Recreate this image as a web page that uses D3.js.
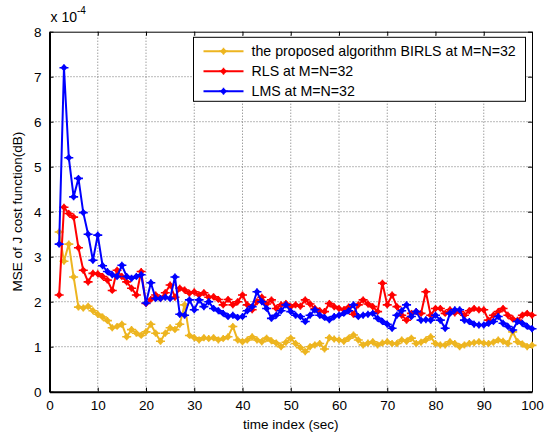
<!DOCTYPE html>
<html>
<head>
<meta charset="utf-8">
<script src="https://cdn.jsdelivr.net/npm/d3@7"></script>
<style>
  body { margin: 0; background: #fff; }
  text { font-family: "Liberation Sans", Arial, sans-serif; }
</style>
</head>
<body>
<div id="chart"></div>
<script>
// time index 2..100
const timeIndex = d3.range(2, 101);

// MSE values in units of 1e-4
const birls = [3.55, 2.9, 3.28, 2.55, 1.88, 1.86, 1.9, 1.8, 1.72, 1.66,
  1.58, 1.42, 1.45, 1.5, 1.22, 1.38, 1.3, 1.25, 1.33, 1.5,
  1.3, 1.12, 1.3, 1.42, 1.38, 1.5, 1.93, 1.25, 1.2, 1.15,
  1.2, 1.18, 1.2, 1.15, 1.18, 1.22, 1.45, 1.15, 1.11, 1.15,
  1.22, 1.15, 1.11, 1.19, 1.13, 1.08, 1.0, 1.1, 1.19, 1.07,
  0.98, 0.89, 1.0, 1.04, 1.07, 0.95, 1.2, 1.17, 1.15, 1.12,
  1.19, 1.26, 1.15, 1.04, 1.08, 1.11, 1.04, 1.08, 1.11, 1.07,
  1.07, 1.15, 1.12, 1.19, 1.07, 1.1, 1.15, 1.22, 1.07, 1.04,
  1.04, 1.11, 1.07, 1.0, 1.04, 1.07, 1.09, 1.11, 1.08, 1.07,
  1.1, 1.15, 1.12, 1.07, 1.33, 1.11, 1.06, 1.0, 1.03];

const rls = [2.15, 4.1, 3.96, 3.88, 3.2, 2.7, 2.44, 2.63, 2.62, 2.56,
  2.48, 2.25, 2.7, 2.56, 2.44, 2.3, 2.15, 2.67, 1.96, 2.05,
  2.15, 2.07, 2.2, 2.37, 2.1, 2.3, 2.26, 2.19, 2.22, 2.15,
  2.2, 2.1, 2.11, 2.05, 1.93, 2.05, 1.93, 2.0, 2.15, 1.93,
  1.82, 2.0, 2.1, 1.95, 2.04, 1.85, 1.93, 1.96, 1.89, 1.93,
  1.9, 2.04, 1.95, 1.85, 1.8, 1.78, 1.96, 1.89, 1.85, 1.82,
  1.88, 1.72, 1.93, 2.04, 1.95, 1.89, 1.78, 2.41, 1.93, 2.15,
  1.89, 1.7, 1.59, 1.74, 1.78, 1.74, 2.22, 1.7, 1.85, 1.85,
  1.74, 1.82, 1.75, 1.78, 1.7, 1.8, 1.85, 1.82, 1.82, 1.59,
  1.7, 1.78, 1.85, 1.7, 1.62, 1.59, 1.7, 1.74, 1.7];

const lms = [3.28, 7.2, 5.2, 4.33, 4.74, 3.98, 3.5, 2.92, 3.48, 2.8,
  2.67, 2.6, 2.56, 2.81, 2.56, 2.52, 2.56, 2.6, 1.97, 2.42,
  2.07, 2.07, 2.1, 2.07, 2.55, 1.72, 1.7, 2.04, 1.82, 2.04,
  1.89, 2.0, 1.85, 1.8, 1.74, 1.67, 1.7, 1.65, 1.67, 1.8,
  1.89, 2.22, 2.0, 1.85, 1.63, 1.7, 1.8, 1.93, 1.78, 1.7,
  1.67, 1.56, 1.7, 1.82, 1.7, 1.65, 1.6, 1.67, 1.7, 1.74,
  1.8, 1.93, 1.67, 1.7, 1.72, 1.74, 1.63, 1.56, 1.5, 1.41,
  1.7, 1.8, 1.93, 1.67, 1.78, 1.59, 1.6, 1.59, 1.7, 1.59,
  1.41, 1.74, 1.82, 1.82, 1.59, 1.56, 1.5, 1.48, 1.48, 1.52,
  1.56, 1.67, 1.52, 1.45, 1.37, 1.56, 1.52, 1.45, 1.4];

const seriesNames = ["the proposed algorithm BIRLS at M=N=32", "RLS at M=N=32", "LMS at M=N=32"];
const seriesColors = ["#EDB520", "#FF0000", "#0000FF"];
const xTicks = d3.range(0, 101, 10);
const yTicks = d3.range(0, 9, 1);

const series = [birls, rls, lms].map((vals, i) => ({
  name: seriesNames[i],
  color: seriesColors[i],
  points: vals.map((v, j) => ({ t: timeIndex[j], v: v }))
}));

// chart size
const chart = {
  margin: { top: 31.7, right: 13, bottom: 41.3, left: 49.5 },
  width: 482.5,
  height: 360
};

const svg = d3.select("#chart")
  .append("svg")
  .attr("width", 545)
  .attr("height", 433)
  .append("g")
  .attr("transform", "translate(" + chart.margin.left + "," + chart.margin.top + ")");

const x = d3.scaleLinear().domain([0, 100]).range([0, chart.width]);
const y = d3.scaleLinear().domain([0, 8]).range([chart.height, 0]);

// dotted grid
svg.append("g")
  .selectAll("line")
  .data(xTicks.slice(1, -1))
  .enter().append("line")
  .attr("x1", d => x(d)).attr("x2", d => x(d))
  .attr("y1", 0).attr("y2", chart.height)
  .attr("stroke", "#666").attr("stroke-width", 0.9)
  .attr("stroke-dasharray", "1,2");

svg.append("g")
  .selectAll("line")
  .data(yTicks.slice(1, -1))
  .enter().append("line")
  .attr("x1", 0).attr("x2", chart.width)
  .attr("y1", d => y(d)).attr("y2", d => y(d))
  .attr("stroke", "#666").attr("stroke-width", 0.9)
  .attr("stroke-dasharray", "1,2");

// axes (ticks inward)
const xAxis = svg.append("g")
  .attr("transform", "translate(0," + chart.height + ")")
  .call(d3.axisBottom(x).tickValues(xTicks).tickSizeInner(-4).tickSizeOuter(0).tickPadding(9));
const yAxis = svg.append("g")
  .call(d3.axisLeft(y).tickValues(yTicks).tickSizeInner(-4).tickSizeOuter(0).tickPadding(8));
svg.append("g")
  .call(d3.axisTop(x).tickValues(xTicks).tickSizeInner(-4).tickSizeOuter(0).tickFormat(""));
svg.append("g")
  .attr("transform", "translate(" + chart.width + ",0)")
  .call(d3.axisRight(y).tickValues(yTicks).tickSizeInner(-4).tickSizeOuter(0).tickFormat(""));

svg.selectAll(".domain").attr("stroke", "#000").attr("stroke-width", 1);
xAxis.select(".domain").attr("stroke-width", 2);
yAxis.select(".domain").attr("stroke-width", 2);
svg.selectAll(".tick line").attr("stroke", "#000");
svg.selectAll(".tick text").attr("font-size", "13.5px").attr("fill", "#000")
  .style("font-family", "'Liberation Sans', Arial, sans-serif");

// exponent label
const expo = svg.append("text")
  .attr("x", 1).attr("y", -10)
  .attr("font-size", "14px");
expo.append("tspan").text("x 10");
expo.append("tspan").attr("dy", -8).attr("font-size", "10px").text("-4");

// axis labels
svg.append("text")
  .attr("x", chart.width / 2)
  .attr("y", chart.height + 37)
  .attr("font-size", "13.5px")
  .attr("text-anchor", "middle")
  .text("time index (sec)");

svg.append("text")
  .attr("transform", "rotate(-90)")
  .attr("x", -chart.height / 2)
  .attr("y", -28)
  .attr("font-size", "13.5px")
  .attr("text-anchor", "middle")
  .text("MSE of J cost function(dB)");

// lines and markers
const line = d3.line().x(d => x(d.t)).y(d => y(d.v));
const markerPath = "M-4.5,0H4.5M0,-3.5V3.5M-2.5,0L0,-2.5L2.5,0L0,2.5Z";

series.forEach(s => {
  svg.append("path")
    .datum(s.points)
    .attr("d", line)
    .attr("fill", "none")
    .attr("stroke", s.color)
    .attr("stroke-width", 2);

  svg.append("g")
    .selectAll("path")
    .data(s.points)
    .enter().append("path")
    .attr("d", markerPath)
    .attr("transform", d => "translate(" + x(d.t) + "," + y(d.v) + ")")
    .attr("fill", s.color)
    .attr("stroke", s.color)
    .attr("stroke-width", 1.6);
});

// legend
const legend = svg.append("g").attr("transform", "translate(144,5.6)");
legend.append("rect")
  .attr("width", 332).attr("height", 64)
  .attr("fill", "#fff").attr("stroke", "#000").attr("stroke-width", 1);

series.forEach((s, i) => {
  const row = legend.append("g").attr("transform", "translate(0," + (14 + i * 20) + ")");
  row.append("line")
    .attr("x1", 10).attr("x2", 50)
    .attr("stroke", s.color).attr("stroke-width", 2);
  row.append("path")
    .attr("d", markerPath)
    .attr("transform", "translate(30,0)")
    .attr("fill", s.color).attr("stroke", s.color).attr("stroke-width", 1.5);
  row.append("text")
    .attr("x", 58).attr("y", 5)
    .attr("font-size", "14.2px")
    .text(s.name);
});
</script>
</body>
</html>
